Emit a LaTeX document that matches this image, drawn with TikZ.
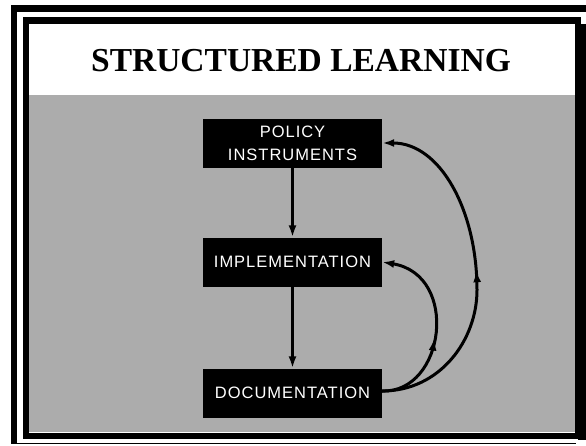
\documentclass[tikz,border=0pt]{standalone}
\usepackage{fontspec}
\setmainfont{Liberation Serif}
\newfontfamily\boxfont[LetterSpace=6]{Liberation Sans}
\usetikzlibrary{arrows.meta,decorations.markings}
\definecolor{panelgray}{RGB}{172,172,172}
\tikzset{
  stagebox/.style={fill=black, text=white, minimum width=179pt, minimum height=49pt,
    inner sep=0pt, align=center, font=\boxfont\fontsize{16.5}{23}\selectfont},
  flow/.style={line width=3pt, -{Latex[length=12pt,width=8pt]}},
  loop/.style={line width=3pt, -{Latex[length=12pt,width=8pt]}, postaction={decorate}},
  midtip/.style={decoration={markings, mark=at position #1 with {\arrow{Latex[length=12pt,width=8pt]}}}}
}
\begin{document}
\begin{tikzpicture}[x=1pt, y=-1pt]
  \useasboundingbox (0,0) rectangle (586,445);
  \fill[white] (0,0) rectangle (586,445);
  % panel: white title band and grey field
  \fill[white] (29,24) rectangle (575,95);
  \fill[panelgray] (29,95) rectangle (575,432);
  % double frame
  \draw[line width=6pt] (14,5) -- (14,443);
  \draw[line width=7pt] (11,8.5) -- (586,8.5);
  \draw[line width=1.5pt] (11,443.5) -- (576,443.5);
  \draw[line width=6.5pt] (26,20.5) rectangle (578,436);
  \fill (578,24) rectangle (586,440);
  % title
  \node[anchor=base, font=\bfseries\fontsize{33.5}{40}\selectfont] (title) at (301,71) {STRUCTURED LEARNING};
  % stages
  \node[stagebox] (pol) at (292.5,143) {POLICY\\INSTRUMENTS};
  \node[stagebox] (impl) at (292.5,262) {IMPLEMENTATION};
  \node[stagebox] (doc) at (292.5,393) {DOCUMENTATION};
  % forward flow
  \draw[flow] (pol.south) -- (impl.north);
  \draw[flow] (impl.south) -- (doc.north);
  % feedback loops
  \draw[loop, midtip=0.44] ([yshift=2pt]doc.east) .. controls (445,393) and (460,275) .. (impl.east);
  \draw[loop, midtip=0.50] ([yshift=2pt]doc.east) .. controls (440,391) and (477,340) .. (477,290)
     .. controls (477,210) and (440,143) .. (pol.east);
\end{tikzpicture}
\end{document}
